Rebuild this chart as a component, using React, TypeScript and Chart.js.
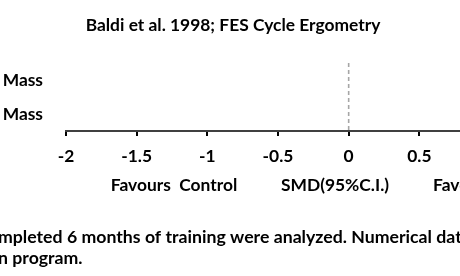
import React, { useEffect, useRef } from "react";
import { Chart, registerables } from "chart.js";

Chart.register(...registerables);

const categories = ["Mass", "Mass"];
const xTicks = [-2, -1.5, -1, -0.5, 0, 0.5];
const xMin = -2;
const xMax = 1;
const chartTitle = "Baldi et al. 1998; FES Cycle Ergometry";
const favoursLeft = "Favours  Control";
const axisLabel = "SMD(95%C.I.)";
const favoursRight = "Favours";
const footerLines = [
  "mpleted 6 months of training were analyzed. Numerical data",
  "n program.",
];

const FONT = "Lato";
const FS = 17.4;

const overlay = {
  id: "overlay",
  beforeDatasetsDraw(chart: any) {
    const { ctx, chartArea, scales } = chart;
    const x0 = scales.x.getPixelForValue(0);
    ctx.save();
    ctx.strokeStyle = "#a6a6a6";
    ctx.lineWidth = 1.6;
    ctx.setLineDash([4, 3]);
    ctx.beginPath();
    ctx.moveTo(x0, chartArea.top);
    ctx.lineTo(x0, chartArea.bottom - 1);
    ctx.stroke();
    ctx.restore();
  },
  afterDraw(chart: any) {
    const { ctx } = chart;
    ctx.save();
    ctx.fillStyle = "#000";
    ctx.font = `bold ${FS}px ${FONT}`;
    ctx.textBaseline = "middle";
    ctx.textAlign = "center";
    ctx.fillText(chartTitle, 233, 25);
    ctx.fillText(favoursLeft, 174, 185);
    ctx.fillText(axisLabel, 335, 185);
    ctx.textAlign = "left";
    ctx.fillText(favoursRight, 433, 185);
    ctx.font = `bold 17.7px ${FONT}`;
    ctx.fillText(footerLines[0], -2, 237);
    ctx.fillText(footerLines[1], -2, 258);
    ctx.restore();
  },
};

export default function App() {
  const ref = useRef<HTMLCanvasElement>(null);
  useEffect(() => {
    if (!ref.current) return;
    const chart = new Chart(ref.current, {
      type: "line",
      data: {
        labels: categories,
        datasets: [{ data: [], showLine: false, pointRadius: 0 }],
      },
      options: {
        animation: false,
        responsive: false,
        devicePixelRatio: 1,
        layout: { padding: { top: 63, right: 10, left: 0, bottom: 0 } },
        plugins: { legend: { display: false }, tooltip: { enabled: false }, title: { display: false } },
        scales: {
          x: {
            type: "linear",
            min: xMin,
            max: xMax,
            position: "bottom",
            afterBuildTicks: (s: any) => {
              s.ticks = xTicks.map((v) => ({ value: v }));
            },
            afterFit: (s: any) => {
              s.height = 145;
            },
            border: { display: true, color: "#404040", width: 2 },
            grid: { display: true, drawOnChartArea: false, drawTicks: true, tickLength: 5, color: "#000", lineWidth: 2 },
            ticks: {
              color: "#000",
              font: { family: FONT, weight: "bold", size: FS },
              padding: 10,
              maxRotation: 0,
              autoSkip: false,
              callback: (v: any) => String(v),
            },
          },
          y: {
            type: "category",
            labels: categories,
            offset: true,
            position: "left",
            afterFit: (s: any) => {
              s.width = 66;
            },
            border: { display: false },
            grid: { display: false, drawTicks: false },
            ticks: {
              color: "#000",
              font: { family: FONT, weight: "bold", size: FS },
              padding: 23,
            },
          },
        },
      },
      plugins: [overlay],
    } as any);
    return () => chart.destroy();
  }, []);
  return (
    <div
      style={{
        position: "fixed",
        left: 0,
        top: 0,
        width: 460,
        height: 276,
        overflow: "hidden",
        background: "#fff",
      }}
    >
      <canvas ref={ref} width={500} height={276} style={{ display: "block", width: 500, height: 276 }} />
    </div>
  );
}
